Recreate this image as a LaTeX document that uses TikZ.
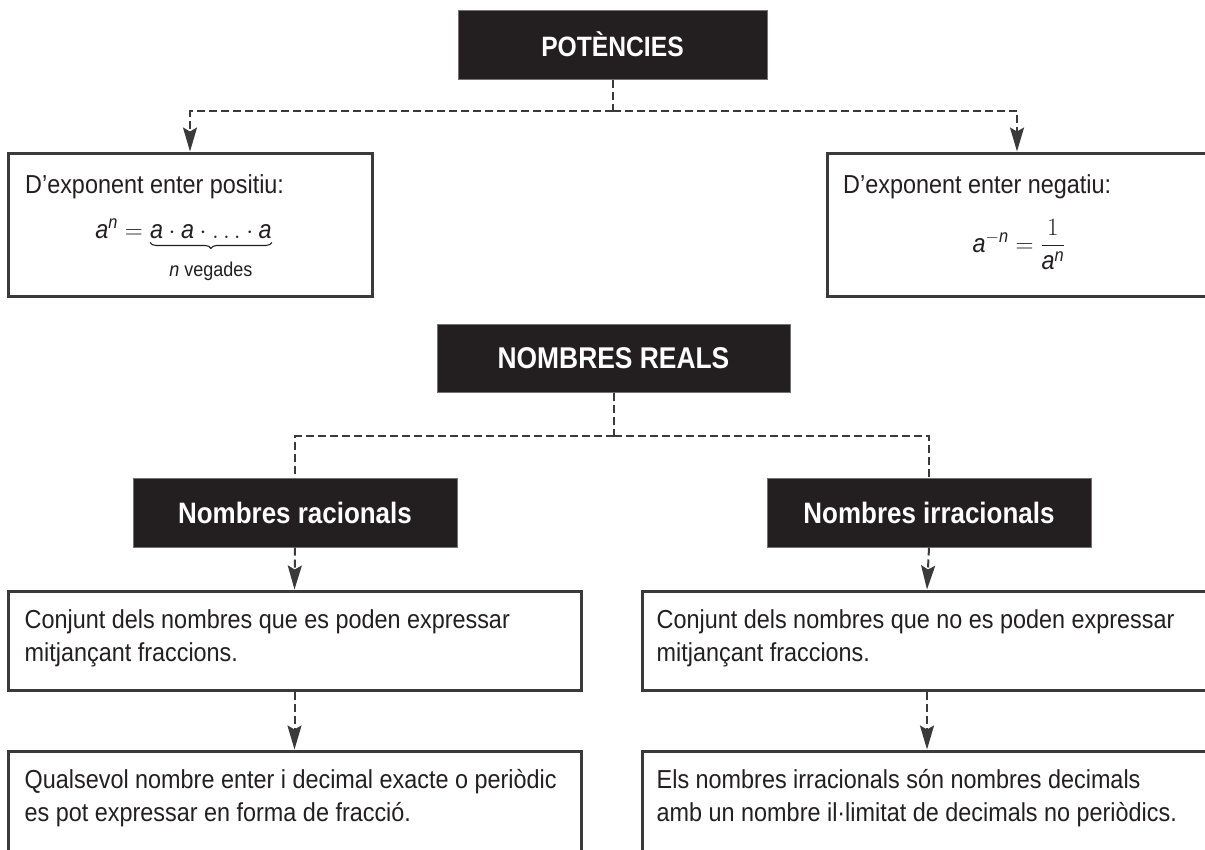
\documentclass[tikz,border=0pt]{standalone}
\usepackage{amsmath}
\usepackage{fontspec}
\setmainfont{Liberation Sans}[FakeStretch=0.9]
\newfontfamily\titlefont{Liberation Sans}[FakeStretch=0.88]
\usetikzlibrary{arrows.meta,decorations.pathreplacing}
\definecolor{ink}{HTML}{231F20}
\definecolor{rule}{HTML}{3A3A3A}
\newcommand{\va}{\textit{a}}
\newcommand{\vn}{\textit{n}}

\tikzset{
  headbox/.style={fill=ink, draw=black!55, line width=1pt, text=white,
    font=\titlefont\bfseries\fontsize{28}{30}\selectfont, inner sep=0pt},
  infobox/.style={draw=rule, line width=3pt, fill=white, inner sep=0pt},
  bodytext/.style={text=ink, font=\fontsize{26}{32.5}\selectfont, inner sep=0pt, align=left},
  smalltext/.style={text=ink, font=\fontsize{20}{22}\selectfont, inner sep=0pt},
  link/.style={draw=rule, line width=2pt, dash pattern=on 8pt off 4pt},
  arrowlink/.style={link, -{Stealth[length=24pt,width=14pt,inset=4pt]}},
  underbrace/.style={draw=ink, line width=1.1pt, decorate,
    decoration={brace, mirror, amplitude=6pt}},
}

\begin{document}
\begin{tikzpicture}[x=1pt, y=-1pt]
\useasboundingbox (0,0) rectangle (1205,849);
\clip (0,0) rectangle (1205,849);

% --- powers ---
\node[headbox, minimum width=309pt, minimum height=69pt] (pot) at (612.5,44.5) {POTÈNCIES};
\node[infobox, minimum width=364pt, minimum height=143pt] (pos) at (190,224.5) {};
\node[infobox, minimum width=380pt, minimum height=143pt] (neg) at (1017,224.5) {};

\node[bodytext, anchor=base west] (postitle) at (25,193) {D'exponent enter positiu:};
\node[bodytext, anchor=base west] (prodrhs) at (150,238) {$\va\cdot\va\cdot\ldots\cdot\va$};
\node[bodytext, anchor=base east] (prodlhs) at (prodrhs.base west) {$\va^{\vn} = {}$};
\draw[underbrace] ([yshift=-4pt]prodrhs.south west) -- ([yshift=-4pt]prodrhs.south east);
\node[smalltext, anchor=north] (prodcount) at ([yshift=-23pt]prodrhs.south) {\vn\ vegades};

\node[bodytext, anchor=base west] (negtitle) at (843,193) {D'exponent enter negatiu:};
\node[bodytext, anchor=base] (negformula) at (1019,252)
  {$\va^{-\vn} = \dfrac{1}{\va^{\vn}}$};

\coordinate (potlevel) at (0,111);
\coordinate (potfork) at (pot.south |- potlevel);
\draw[link] (pot.south) -- (potfork);
\draw[arrowlink] (potfork) -| (pos.north);
\draw[arrowlink] (potfork) -| (neg.north);

% --- real numbers ---
\node[headbox, minimum width=353pt, minimum height=68pt,
  font=\titlefont\bfseries\fontsize{30}{32}\selectfont] (real) at (613.5,358) {NOMBRES REALS};
\node[headbox, minimum width=324pt, minimum height=69pt,
  font=\titlefont\bfseries\fontsize{29.5}{32}\selectfont] (rac) at (295,512.5) {Nombres racionals};
\node[headbox, minimum width=324pt, minimum height=69pt,
  font=\titlefont\bfseries\fontsize{29.5}{32}\selectfont] (irr) at (929,512.5) {Nombres irracionals};

\node[infobox, minimum width=573pt, minimum height=99pt] (racdef) at (294.5,640.5) {};
\node[infobox, minimum width=570pt, minimum height=99pt] (irrdef) at (927,640.5) {};
\node[infobox, minimum width=573pt, minimum height=120pt] (racex) at (294.5,811) {};
\node[infobox, minimum width=570pt, minimum height=120pt] (irrex) at (927,811) {};

\node[bodytext, anchor=north west] (racdeftext) at ([xshift=18pt,yshift=-20pt]racdef.north west)
  {Conjunt dels nombres que es poden expressar\\mitjançant fraccions.};
\node[bodytext, anchor=north west] (irrdeftext) at ([xshift=16pt,yshift=-20pt]irrdef.north west)
  {Conjunt dels nombres que no es poden expressar\\mitjançant fraccions.};
\node[bodytext, anchor=north west] (racextext) at ([xshift=18pt,yshift=-20pt]racex.north west)
  {Qualsevol nombre enter i decimal exacte o periòdic\\es pot expressar en forma de fracció.};
\node[bodytext, anchor=north west] (irrextext) at ([xshift=16pt,yshift=-20pt]irrex.north west)
  {Els nombres irracionals són nombres decimals\\amb un nombre il·limitat de decimals no periòdics.};

\coordinate (reallevel) at (0,436);
\coordinate (realfork) at (real.south |- reallevel);
\draw[link] (real.south) -- (realfork);
\draw[link] (realfork) -| (rac.north);
\draw[link] (realfork) -| (irr.north);

\draw[arrowlink] (rac.south) -- (racdef.north);
\draw[arrowlink] (irr.south) -- (irrdef.north);
\draw[arrowlink] (racdef.south) -- (racex.north);
\draw[arrowlink] (irrdef.south) -- (irrex.north);
\end{tikzpicture}
\end{document}
